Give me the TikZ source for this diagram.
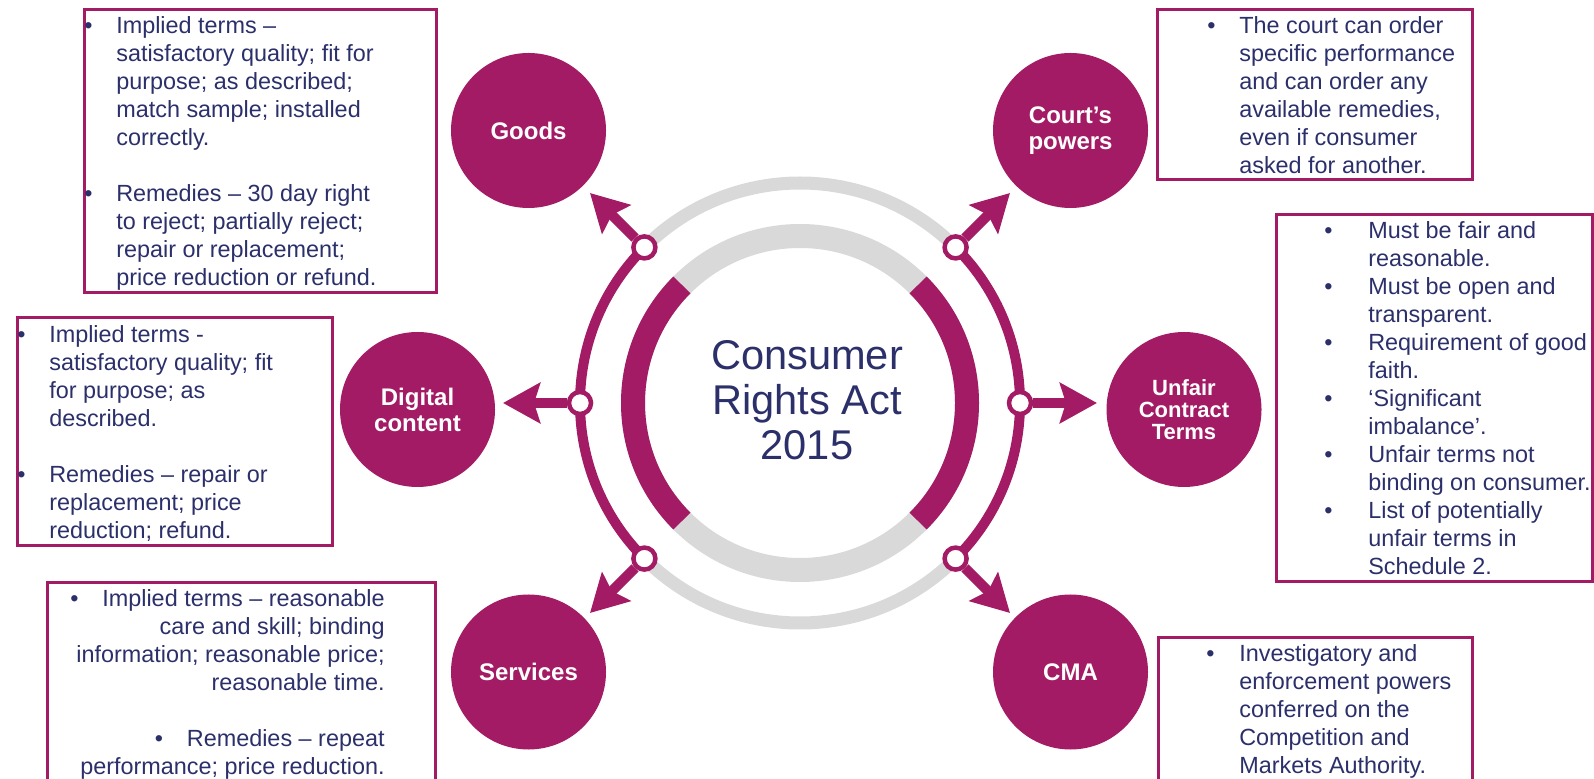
\documentclass[tikz,border=0pt]{standalone}
\usepackage{fontspec}
\setmainfont{Liberation Sans}
\usetikzlibrary{arrows.meta}
\definecolor{plum}{RGB}{162,27,100}
\definecolor{ink}{RGB}{43,47,106}
\definecolor{ringgrey}{RGB}{217,217,217}
\tikzset{
  topic/.style={circle, fill=plum, minimum size=77.5pt, inner sep=0pt, text=white,
    font=\bfseries\fontsize{12}{13}\selectfont, align=center},
  knob/.style={circle, draw=plum, fill=white, line width=2.25pt, minimum size=11pt, inner sep=0pt},
  spoke/.style={plum, line width=5pt, -{Stealth[length=18.5pt,width=20pt,inset=3pt]}},
  frame/.style={draw=plum, line width=1.5pt},
  notes/.style={inner sep=0pt, text=ink, font=\fontsize{11.7}{14}\selectfont},
}
\begin{document}
\begin{tikzpicture}[x=0.5pt,y=-0.5pt]
\clip (0,0) rectangle (1594,779);
\coordinate (hub) at (800,403);
% inner ring
\draw[ringgrey, line width=12pt] (hub) circle (167);
\draw[plum, line width=12pt] (hub) ++(135:167) arc (135:225:167);
\draw[plum, line width=12pt] (hub) ++(-45:167) arc (-45:45:167);
% outer ring
\draw[ringgrey, line width=6.5pt] (hub) ++(225:220) arc (225:315:220);
\draw[ringgrey, line width=6.5pt] (hub) ++(45:220) arc (45:135:220);
\draw[plum, line width=5pt] (hub) ++(135:220) arc (135:225:220);
\draw[plum, line width=5pt] (hub) ++(-45:220) arc (-45:45:220);
% knobs on the outer ring
\node[knob] (kgoods) at (644.4,247.4) {};
\node[knob] (kdigital) at (580,403) {};
\node[knob] (kservices) at (644.4,558.6) {};
\node[knob] (kcourt) at (955.6,247.4) {};
\node[knob] (kunfair) at (1020,403) {};
\node[knob] (kcma) at (955.6,558.6) {};
\coordinate (tgoods) at (590,193);
\coordinate (tdigital) at (503,403);
\coordinate (tservices) at (590,613);
\coordinate (tcourt) at (1010,193);
\coordinate (tunfair) at (1097,403);
\coordinate (tcma) at (1010,613);
\draw[spoke] (kgoods) -- (tgoods);
\draw[spoke] (kdigital) -- (tdigital);
\draw[spoke] (kservices) -- (tservices);
\draw[spoke] (kcourt) -- (tcourt);
\draw[spoke] (kunfair) -- (tunfair);
\draw[spoke] (kcma) -- (tcma);
% topics
\node[topic] (goods) at (528.5,130.5) {Goods};
\node[topic] (court) at (1070.5,130.5) {Court’s\\powers};
\node[topic] (digital) at (417.5,409.5) {Digital\\content};
\node[topic, font=\bfseries\fontsize{11}{11}\selectfont] (unfair) at (1184,409.5) {Unfair\\Contract\\Terms};
\node[topic] (services) at (528.5,672) {Services};
\node[topic] (cma) at (1070.5,672) {CMA};
\node[inner sep=0pt, text=ink, font=\fontsize{20.8}{22.5}\selectfont] (title) at (807,406)
  {\begin{tabular}{@{}c@{}}Consumer\\Rights Act\\2015\end{tabular}};
% boxes
\draw[frame] (84.7,9.5) rectangle (436,292.8);
\draw[frame] (1157.5,9.5) rectangle (1472.8,179.5);
\draw[frame] (1276,214.7) rectangle (1592.8,582);
\draw[frame] (17.2,318) rectangle (332.2,545.3);
\draw[frame] (47.3,582.7) rectangle (435.7,800);
\draw[frame] (1158,637.3) rectangle (1472,800);
\node[notes, anchor=north west] (ngoods) at (83.9,13.9) {\begin{tabular}{@{}p{16pt}@{}l@{}}
\textbullet & Implied terms --\\
 & satisfactory quality; fit for\\
 & purpose; as described;\\
 & match sample; installed\\
 & correctly.\\
 & \\
\textbullet & Remedies -- 30 day right\\
 & to reject; partially reject;\\
 & repair or replacement;\\
 & price reduction or refund.
\end{tabular}};
\node[notes, anchor=north west] (ncourt) at (1206.9,13.9) {\begin{tabular}{@{}p{16pt}@{}l@{}}
\textbullet & The court can order\\
 & specific performance\\
 & and can order any\\
 & available remedies,\\
 & even if consumer\\
 & asked for another.
\end{tabular}};
\node[notes, anchor=north west] (nunfair) at (1323.9,218.7) {\begin{tabular}{@{}p{22pt}@{}l@{}}
\textbullet & Must be fair and\\
 & reasonable.\\
\textbullet & Must be open and\\
 & transparent.\\
\textbullet & Requirement of good\\
 & faith.\\
\textbullet & ‘Significant\\
 & imbalance’.\\
\textbullet & Unfair terms not\\
 & binding on consumer.\\
\textbullet & List of potentially\\
 & unfair terms in\\
 & Schedule 2.
\end{tabular}};
\node[notes, anchor=north west] (ndigital) at (16.9,322.1) {\begin{tabular}{@{}p{16pt}@{}l@{}}
\textbullet & Implied terms -\\
 & satisfactory quality; fit\\
 & for purpose; as\\
 & described.\\
 & \\
\textbullet & Remedies -- repair or\\
 & replacement; price\\
 & reduction; refund.
\end{tabular}};
\node[notes, anchor=north east] (nservices) at (385,586.1) {\begin{tabular}{@{}r@{}}
\makebox[16pt][l]{\textbullet}Implied terms -- reasonable\\
care and skill; binding\\
information; reasonable price;\\
reasonable time.\\
\\
\makebox[16pt][l]{\textbullet}Remedies -- repeat\\
performance; price reduction.
\end{tabular}};
\node[notes, anchor=north west] (ncma) at (1205.9,641.1) {\begin{tabular}{@{}p{16.5pt}@{}l@{}}
\textbullet & Investigatory and\\
 & enforcement powers\\
 & conferred on the\\
 & Competition and\\
 & Markets Authority.
\end{tabular}};
\end{tikzpicture}
\end{document}
